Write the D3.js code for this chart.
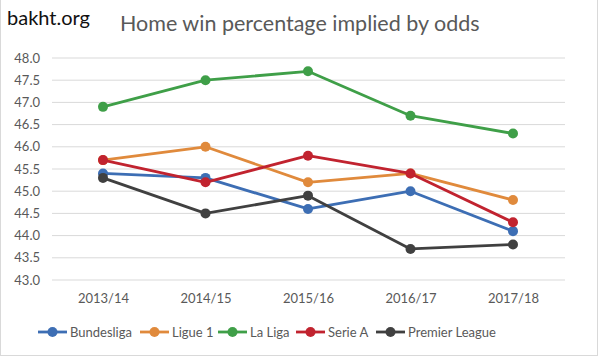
<!DOCTYPE html>
<html><head><meta charset="utf-8">
<script src="https://cdn.jsdelivr.net/npm/d3@7"></script>
<style>body{margin:0;background:#fff}svg{display:block}text{font-family:Lato,"Open Sans",sans-serif}</style>
</head><body><svg id="c" width="600" height="357"></svg>
<script>
const seasons = ["2013/14","2014/15","2015/16","2016/17","2017/18"];
const seriesNames = ["Bundesliga","Ligue 1","La Liga","Serie A","Premier League"];
const bundesliga = [45.4,45.3,44.6,45.0,44.1];
const ligue1 = [45.7,46.0,45.2,45.4,44.8];
const laliga = [46.9,47.5,47.7,46.7,46.3];
const serieA = [45.7,45.2,45.8,45.4,44.3];
const premier = [45.3,44.5,44.9,43.7,43.8];
const yTicks = [43.0,43.5,44.0,44.5,45.0,45.5,46.0,46.5,47.0,47.5,48.0];
const colors = ["#3d6eb4","#e08a3c","#3f9f48","#c1232f","#404040"];
const values = [bundesliga,ligue1,laliga,serieA,premier];

const svg = d3.select("#c");
svg.append("rect").attr("x",0.5).attr("y",-1).attr("width",597).attr("height",356.5)
  .attr("fill","#fff").attr("stroke","#d9d9d9");

const x = d3.scalePoint().domain(seasons).range([103,513]);
const y = d3.scaleLinear().domain([43,48]).range([280,58]);

const grid = svg.append("g");
grid.selectAll("line").data(yTicks).join("line")
  .attr("x1",52).attr("x2",565).attr("y1",d=>y(d)).attr("y2",d=>y(d))
  .attr("stroke","#d9d9d9").attr("stroke-width",1);

const ya = svg.append("g").attr("transform","translate(43,0)")
  .call(d3.axisLeft(y).tickValues(yTicks).tickFormat(d3.format(".1f")).tickSize(0).tickPadding(3));
ya.select(".domain").remove();
ya.selectAll("text").attr("fill","#595959").style("font-size","13px").style("font-family","Lato,sans-serif");

const xa = svg.append("g").attr("transform","translate(0,291)")
  .call(d3.axisBottom(x).tickSize(0).tickPadding(3));
xa.select(".domain").remove();
xa.selectAll("text").attr("fill","#595959").style("font-size","13px").style("font-family","Lato,sans-serif");

const line = d3.line().x((d,i)=>x(seasons[i])).y(d=>y(d));
values.forEach((vals,k)=>{
  const g = svg.append("g");
  g.append("path").datum(vals).attr("d",line).attr("fill","none")
    .attr("stroke",colors[k]).attr("stroke-width",2.8).attr("stroke-linejoin","round");
  g.selectAll("circle").data(vals).join("circle")
    .attr("cx",(d,i)=>x(seasons[i])).attr("cy",d=>y(d)).attr("r",5)
    .attr("fill",colors[k]);
});

svg.append("text").attr("x",7).attr("y",25).text("bakht.org")
  .attr("fill","#111").style("font-size","20px");
svg.append("text").attr("x",120).attr("y",31).text("Home win percentage implied by odds")
  .attr("fill","#595959").style("font-size","21.5px");

const legX = [38,140,218,296,376];
const lg = svg.append("g");
seriesNames.forEach((n,k)=>{
  const g = lg.append("g").attr("transform",`translate(${legX[k]},332)`);
  g.append("line").attr("x1",0).attr("x2",29).attr("y1",0).attr("y2",0)
    .attr("stroke",colors[k]).attr("stroke-width",2.8);
  g.append("circle").attr("cx",14.5).attr("cy",0).attr("r",5).attr("fill",colors[k]);
  g.append("text").attr("x",32).attr("y",5).text(n).attr("fill","#595959").style("font-size","13px");
});
</script></body></html>
